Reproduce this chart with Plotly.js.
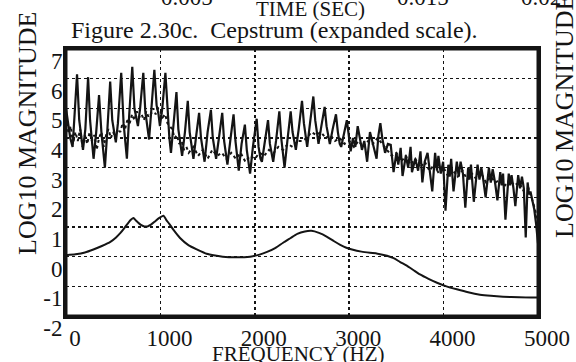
<!DOCTYPE html>
<html>
<head>
<meta charset="utf-8">
<script src="https://cdn.plot.ly/plotly-3.0.1.min.js"></script>
<style>
html,body{margin:0;padding:0;background:#fff;}
#chart{width:576px;height:362px;}
</style>
</head>
<body>
<div id="chart"></div>
<script>
// ---- Data ----
// Solid trace: original log-magnitude spectrum (harmonic structure)
const SOLID_F = [0,20,45,70,95,117,140,160,180,205,234,255,275,292,320,350,375,395,412,435,468,490,510,528,550,585,610,630,645,670,702,725,745,762,785,819,840,862,880,905,936,960,980,995,1020,1053,1075,1095,1112,1140,1170,1190,1210,1230,1260,1290,1310,1330,1350,1380,1410,1430,1450,1468,1500,1535,1555,1575,1590,1620,1655,1675,1695,1710,1740,1775,1795,1815,1830,1860,1895,1915,1935,1950,1980,2020,2040,2060,2075,2105,2140,2160,2180,2195,2225,2260,2280,2300,2315,2345,2380,2400,2420,2435,2465,2500,2520,2540,2555,2585,2620,2640,2660,2675,2705,2740,2760,2780,2795,2825,2860,2880,2900,2915,2945,2975,2995,3015,3040,3065,3090,3110,3135,3160,3190,3220,3250,3290,3310,3330,3350,3380,3410,3440,3470,3500,3520,3545,3565,3600,3625,3650,3665,3700,3730,3755,3775,3800,3830,3855,3880,3910,3930,3945,3970,3995,4020,4050,4065,4080,4105,4140,4160,4180,4205,4230,4260,4275,4290,4320,4360,4380,4400,4420,4445,4480,4500,4520,4545,4570,4600,4615,4630,4655,4690,4705,4720,4740,4760,4790,4810,4830,4850,4870,4890,4905,4920,4940,4960,4980,5000];
const SOLID_V = [5.0,4.6,4.0,3.7,4.9,6.15,4.6,4.1,3.6,4.3,6.05,4.6,4.0,3.3,4.2,5.45,4.2,3.6,3.0,4.1,5.9,4.6,4.2,3.85,4.5,6.2,4.5,3.9,3.3,4.8,6.4,5.0,4.7,4.4,5.0,6.2,4.9,4.4,3.95,5.0,6.3,5.1,4.8,4.4,5.0,6.2,4.8,4.0,3.5,4.4,5.55,4.3,3.8,3.4,4.2,5.25,4.2,3.7,3.3,4.1,4.85,4.0,3.6,3.2,4.2,4.95,4.0,3.5,3.3,4.0,4.85,3.9,3.4,3.1,3.9,4.8,3.9,3.3,2.9,3.8,4.45,3.6,3.1,2.8,3.7,4.65,3.7,3.3,3.2,3.8,4.6,3.8,3.4,3.2,3.9,4.9,4.0,3.5,3.0,3.9,4.9,4.2,3.8,3.6,4.3,5.25,4.5,4.0,3.7,4.5,5.4,4.6,4.1,3.8,4.4,5.05,4.4,4.0,3.8,4.3,4.8,4.2,3.8,3.7,4.2,4.6,4.1,3.55,4.0,3.7,4.4,4.0,3.6,3.9,3.2,4.2,3.8,3.3,4.1,4.5,4.0,3.5,3.8,3.77,2.85,3.5,3.1,3.67,2.72,3.4,3.0,3.7,2.85,3.3,2.9,3.55,2.5,3.2,3.5,2.9,2.2,3.5,2.9,3.4,2.8,3.2,1.55,3.1,2.7,3.3,2.2,3.2,2.7,3.2,2.8,1.65,3.0,2.6,3.1,1.85,3.1,2.6,3.0,2.6,2.0,3.0,2.5,2.95,2.5,1.9,2.85,2.4,2.8,1.25,2.8,2.4,2.75,2.3,1.7,2.75,2.3,2.7,2.3,0.65,2.5,2.1,2.2,1.9,1.6,1.1,0.45];

// Dotted trace: smoothed spectrum
const DOT_F = [0,25,50,75,100,125,150,175,200,225,250,275,300,325,350,375,400,425,450,475,500,525,550,575,600,625,650,675,700,725,750,775,800,825,850,875,900,925,950,975,1000,1025,1050,1075,1100,1125,1150,1175,1200,1225,1250,1275,1300,1350,1400,1450,1500,1550,1600,1650,1700,1750,1800,1850,1900,1950,2000,2050,2100,2150,2200,2250,2300,2350,2400,2450,2500,2550,2600,2650,2700,2750,2800,2850,2900,2950,3000,3050,3100,3150,3200,3250,3300,3350,3400,3450,3500,3550,3600,3650,3700,3750,3800,3850,3900,3950,4000,4050,4100,4150,4200,4250,4300,4350,4400,4450,4500,4550,4600,4650,4700,4750,4800,4850,4900,4950,5000];
const DOT_V = [4.7,4.2,4.4,3.8,4.2,3.9,4.3,3.7,4.1,3.8,4.2,3.9,4.1,3.6,4.0,4.2,3.7,4.1,4.3,4.0,4.2,4.0,4.3,4.2,4.5,4.3,4.6,4.5,4.8,4.6,4.9,4.7,4.8,4.6,4.9,4.7,4.8,5.0,4.8,5.0,4.9,4.7,4.8,4.5,4.4,4.3,4.0,4.1,3.8,3.9,3.6,3.7,3.5,3.7,3.4,3.6,3.3,3.6,3.4,3.5,3.3,3.5,3.3,3.5,3.2,3.4,3.3,3.5,3.4,3.6,3.5,3.7,3.6,3.8,3.7,3.9,3.9,4.0,4.2,4.1,4.2,4.0,4.1,3.9,4.0,3.8,3.9,3.7,3.9,3.7,3.9,3.8,4.0,3.8,3.6,3.4,3.5,3.2,3.4,3.1,3.3,3.0,3.2,2.9,3.1,2.8,3.0,2.7,2.9,2.7,2.9,2.6,2.8,2.6,2.8,2.5,2.7,2.5,2.6,2.4,2.6,2.4,2.5,2.2,2.3,1.8,1.2];

// Lower smooth trace: vocal-tract envelope
const ENV_F = [0,100,200,290,380,470,530,577,620,662,690,715,740,789,830,863,900,940,985,1033,1060,1100,1139,1208,1300,1390,1490,1580,1660,1800,1950,2050,2130,2220,2300,2380,2450,2530,2600,2680,2765,2840,2905,2970,3040,3130,3220,3300,3400,3470,3540,3610,3680,3750,3840,3930,4030,4140,4260,4385,4500,4630,4800,5000];
const ENV_V = [0.05,0.08,0.14,0.24,0.36,0.5,0.65,0.8,0.97,1.15,1.25,1.3,1.22,1.08,1.02,1.02,1.08,1.18,1.3,1.38,1.25,1.08,0.9,0.63,0.38,0.24,0.1,0.04,0.0,-0.02,0.0,0.07,0.16,0.3,0.47,0.63,0.77,0.85,0.87,0.8,0.67,0.52,0.4,0.3,0.23,0.17,0.13,0.1,0.03,-0.05,-0.18,-0.3,-0.45,-0.6,-0.75,-0.88,-1.0,-1.1,-1.2,-1.28,-1.32,-1.35,-1.37,-1.38];

// Axis ticks
const X_TICKS = [0,1000,2000,3000,4000,5000];
const X_TICK_TEXT = ['0','1000','2000','3000','4000','5000'];
const Y_TICKS = [-2,-1,0,1,2,3,4,5,6,7];
const Y_TICK_TEXT = ['-2','-1','0','1','2','3','4','5','6','7'];
const TOP_TICK_TEXT = ['0.005','0.015','0.02'];

const FONT = 'Liberation Serif, Times New Roman, serif';
const INK = '#141414';

const traces = [
  {x: DOT_F, y: DOT_V, type:'scatter', mode:'lines', line:{color:INK, width:2, dash:'dot'}, hoverinfo:'skip'},
  {x: SOLID_F, y: SOLID_V, type:'scatter', mode:'lines', line:{color:INK, width:2.2}, hoverinfo:'skip'},
  {x: ENV_F, y: ENV_V, type:'scatter', mode:'lines', line:{color:INK, width:2, shape:'spline', smoothing:0.6}, hoverinfo:'skip'}
];

const W = 576, H = 362, L = 66, R = 38, T = 49, B = 46;
const PW = W - L - R, PH = H - T - B;
const px = v => (v - L) / PW;          // pixel -> paper x
const py = v => (H - B - v) / PH;      // pixel -> paper y

const annotations = [
  {text:'Figure 2.30c.\u00a0 Cepstrum (expanded scale).', x:px(274), y:py(30), xref:'paper', yref:'paper', xanchor:'center', yanchor:'middle', showarrow:false, font:{family:FONT, size:24, color:INK}},
  {text:'LOG10 MAGNITUDE', x:px(27), y:py(134), xref:'paper', yref:'paper', xanchor:'center', yanchor:'middle', textangle:-90, showarrow:false, font:{family:FONT, size:26, color:INK}},
  {text:'LOG10 MAGNITUDE', x:px(565), y:py(117), xref:'paper', yref:'paper', xanchor:'center', yanchor:'middle', textangle:-90, showarrow:false, font:{family:FONT, size:26, color:INK}},
  {text:'FREQUENCY (HZ)', x:px(298), y:py(354), xref:'paper', yref:'paper', xanchor:'center', yanchor:'middle', showarrow:false, font:{family:FONT, size:21, color:INK}},
  {text:'TIME (SEC)', x:px(310), y:py(9), xref:'paper', yref:'paper', xanchor:'center', yanchor:'middle', showarrow:false, font:{family:FONT, size:21, color:INK}},
  {text:TOP_TICK_TEXT[0], x:px(187), y:py(-2), xref:'paper', yref:'paper', xanchor:'center', yanchor:'middle', showarrow:false, font:{family:FONT, size:23, color:INK}},
  {text:TOP_TICK_TEXT[1], x:px(423), y:py(-2), xref:'paper', yref:'paper', xanchor:'center', yanchor:'middle', showarrow:false, font:{family:FONT, size:23, color:INK}},
  {text:TOP_TICK_TEXT[2], x:px(541), y:py(-2), xref:'paper', yref:'paper', xanchor:'center', yanchor:'middle', showarrow:false, font:{family:FONT, size:23, color:INK}}
];

const layout = {
  width: W, height: H,
  margin: {l:L, r:R, t:T, b:B, pad:0},
  paper_bgcolor:'#ffffff', plot_bgcolor:'#ffffff',
  showlegend:false,
  font:{family:FONT, color:INK},
  xaxis:{
    range:[0,5000], tickmode:'array', tickvals:X_TICKS, ticktext:X_TICK_TEXT,
    showgrid:true, gridcolor:INK, gridwidth:1.5, griddash:'dot',
    showline:true, linecolor:INK, linewidth:3, mirror:true,
    ticks:'', zeroline:false, ticklabelshift:9, ticklabelstandoff:-1,
    tickfont:{family:FONT, size:23, color:INK}, fixedrange:true
  },
  yaxis:{
    range:[-2,7], tickmode:'array', tickvals:Y_TICKS, ticktext:Y_TICK_TEXT,
    showgrid:true, gridcolor:INK, gridwidth:1.5, griddash:'dot',
    showline:true, linecolor:INK, linewidth:3, mirror:true,
    ticks:'', zeroline:false, ticklabelshift:12, ticklabelstandoff:-4,
    tickfont:{family:FONT, size:23, color:INK}, fixedrange:true
  },
  shapes:[
    {type:'rect', xref:'paper', yref:'paper', x0:0, x1:1, y0:0, y1:1, line:{color:INK, width:3}, fillcolor:'rgba(0,0,0,0)', layer:'above'}
  ],
  annotations: annotations
};

Plotly.newPlot('chart', traces, layout, {staticPlot:true, displayModeBar:false});
</script>
</body>
</html>
